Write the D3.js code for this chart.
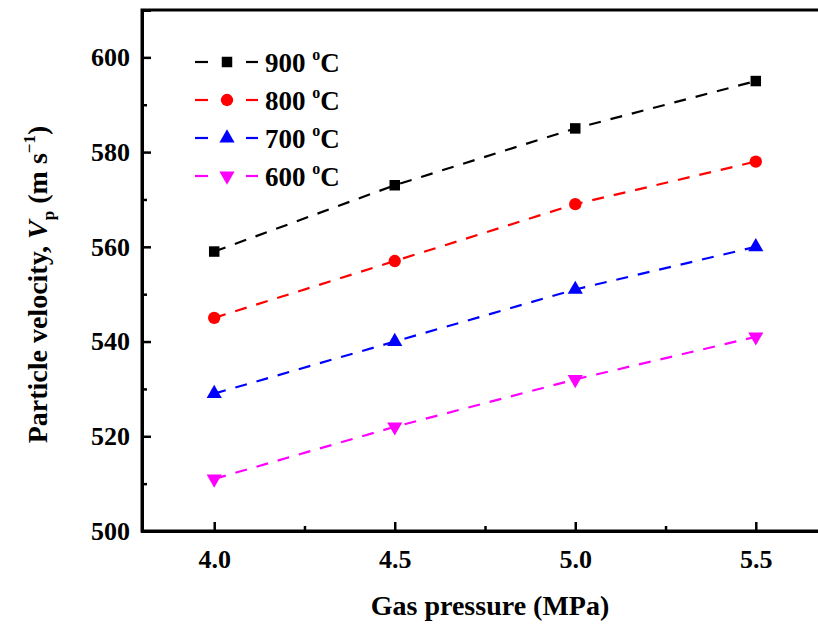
<!DOCTYPE html>
<html>
<head>
<meta charset="utf-8">
<script src="https://cdn.jsdelivr.net/npm/d3@7"></script>
<style>
  body { margin: 0; background: #fff; }
  text { font-family: "Liberation Serif", "DejaVu Serif", serif; }
</style>
</head>
<body>
<div id="chart"></div>
<script>
// data
const pressures = [4.0, 4.5, 5.0, 5.5];
const seriesNames = ['900', '800', '700', '600'];
const v900 = [559, 573, 585, 595];
const v800 = [545, 557, 569, 578];
const v700 = [529, 540, 551, 560];
const v600 = [511, 522, 532, 541];
const seriesColors = ['#000000', '#ff0000', '#0000ff', '#ff00ff'];
const seriesSymbols = [d3.symbolSquare, d3.symbolCircle, d3.symbolTriangle, d3.symbolTriangle];
const xMajor = [4.0, 4.5, 5.0, 5.5];
const xMinor = [4.25, 4.75, 5.25];
const yMajor = [500, 520, 540, 560, 580, 600];
const yMinor = [510, 530, 550, 570, 590];

const FONT = 'Liberation Serif, DejaVu Serif, serif';

const series = [v900, v800, v700, v600].map((vals, i) => ({
    name: seriesNames[i],
    color: seriesColors[i],
    symbol: seriesSymbols[i],
    flip: i === 3,
    points: vals.map((v, j) => ({ x: pressures[j], y: v }))
}));

const width = 818, height = 627;
const margins = { top: 10, bottom: 96, left: 142, right: -10 };

const svg = d3.select('#chart').append('svg')
    .attr('width', width)
    .attr('height', height)
    .style('display', 'block');

// scales
const xScale = d3.scaleLinear().domain([3.8, 5.7]).range([margins.left, width - margins.right]);
const yScale = d3.scaleLinear().domain([500, 610]).range([height - margins.bottom, margins.top]);

const markerSize = s => s === d3.symbolCircle ? 120 : (s === d3.symbolSquare ? 110 : 100);

// frame (top and right, right falls outside the picture)
svg.append('rect')
    .attr('x', margins.left)
    .attr('y', margins.top)
    .attr('width', xScale(5.7) - margins.left)
    .attr('height', yScale(500) - margins.top)
    .attr('fill', 'none')
    .attr('stroke', '#000')
    .attr('stroke-width', 3);

// axes
const xAxisGroup = svg.append('g')
    .attr('transform', `translate(0,${yScale(500)})`)
    .call(d3.axisBottom(xScale).tickValues(xMajor).tickFormat(d3.format('.1f')).tickSize(-9).tickPadding(19));
xAxisGroup.append('g')
    .call(d3.axisBottom(xScale).tickValues(xMinor).tickFormat('').tickSize(-5))
    .call(g => g.select('.domain').remove());

const yAxisGroup = svg.append('g')
    .attr('transform', `translate(${margins.left},0)`)
    .call(d3.axisLeft(yScale).tickValues(yMajor).tickSize(-9).tickPadding(12));
yAxisGroup.append('g')
    .call(d3.axisLeft(yScale).tickValues(yMinor).tickFormat('').tickSize(-5))
    .call(g => g.select('.domain').remove());

[xAxisGroup, yAxisGroup].forEach(g => {
    g.attr('font-family', FONT).attr('font-size', 26).attr('font-weight', 'bold');
    g.selectAll('.domain').attr('stroke-width', 3);
    g.selectAll('.tick line').attr('stroke-width', 2.5);
    g.selectAll('.tick text').attr('fill', '#000');
});
xAxisGroup.selectAll('.tick text').attr('dy', '0.71em');

// lines
const line = d3.line().x(d => xScale(d.x)).y(d => yScale(d.y));

const lineGroups = svg.selectAll('.line-group')
    .data(series)
    .join('g')
    .attr('class', 'line-group');

lineGroups.append('path')
    .attr('d', d => line(d.points))
    .attr('fill', 'none')
    .attr('stroke', d => d.color)
    .attr('stroke-width', 2.2)
    .attr('stroke-dasharray', '12,10');

lineGroups.selectAll('.marker')
    .data(d => d.points.map(p => ({ ...p, s: d })))
    .join('path')
    .attr('class', 'marker')
    .attr('transform', d => `translate(${xScale(d.x)},${yScale(d.y)})${d.s.flip ? ' rotate(180)' : ''}`)
    .attr('d', d => d3.symbol(d.s.symbol, markerSize(d.s.symbol))())
    .attr('fill', d => d.s.color);

// legend
const legend = svg.append('g').attr('transform', 'translate(195,62)');
const legendRows = legend.selectAll('g')
    .data(series)
    .join('g')
    .attr('transform', (d, i) => `translate(0,${i * 38})`);

legendRows.append('line')
    .attr('x1', 0).attr('x2', 13).attr('stroke', d => d.color).attr('stroke-width', 2.2);
legendRows.append('line')
    .attr('x1', 51).attr('x2', 63).attr('stroke', d => d.color).attr('stroke-width', 2.2);
legendRows.append('path')
    .attr('transform', d => `translate(32,0)${d.flip ? ' rotate(180)' : ''}`)
    .attr('d', d => d3.symbol(d.symbol, markerSize(d.symbol))())
    .attr('fill', d => d.color);

const legendText = legendRows.append('text')
    .attr('x', 70)
    .attr('y', 10)
    .attr('font-family', FONT)
    .attr('font-weight', 'bold')
    .attr('font-size', 27)
    .attr('fill', '#000');
legendText.append('tspan').text(d => d.name + ' ');
legendText.append('tspan').attr('font-size', 16).attr('dy', -12).text('o');
legendText.append('tspan').attr('dy', 12).text('C');

// axis titles
svg.append('text')
    .attr('x', xScale(4.75) + 5)
    .attr('y', 615)
    .attr('text-anchor', 'middle')
    .attr('font-family', FONT)
    .attr('font-weight', 'bold')
    .attr('font-size', 28)
    .text('Gas pressure (MPa)');

const yTitle = svg.append('text')
    .attr('transform', `translate(47,${yScale(555) + 14}) rotate(-90)`)
    .attr('text-anchor', 'middle')
    .attr('font-family', FONT)
    .attr('font-weight', 'bold')
    .attr('font-size', 28);
yTitle.append('tspan').text('Particle velocity, ');
yTitle.append('tspan').attr('font-style', 'italic').text('V');
yTitle.append('tspan').attr('font-size', 17).attr('dy', 7).text('p');
yTitle.append('tspan').attr('dy', -7).text(' (m s');
yTitle.append('tspan').attr('font-size', 17).attr('dy', -12).text('\u22121');
yTitle.append('tspan').attr('dy', 12).text(')');
</script>
</body>
</html>
